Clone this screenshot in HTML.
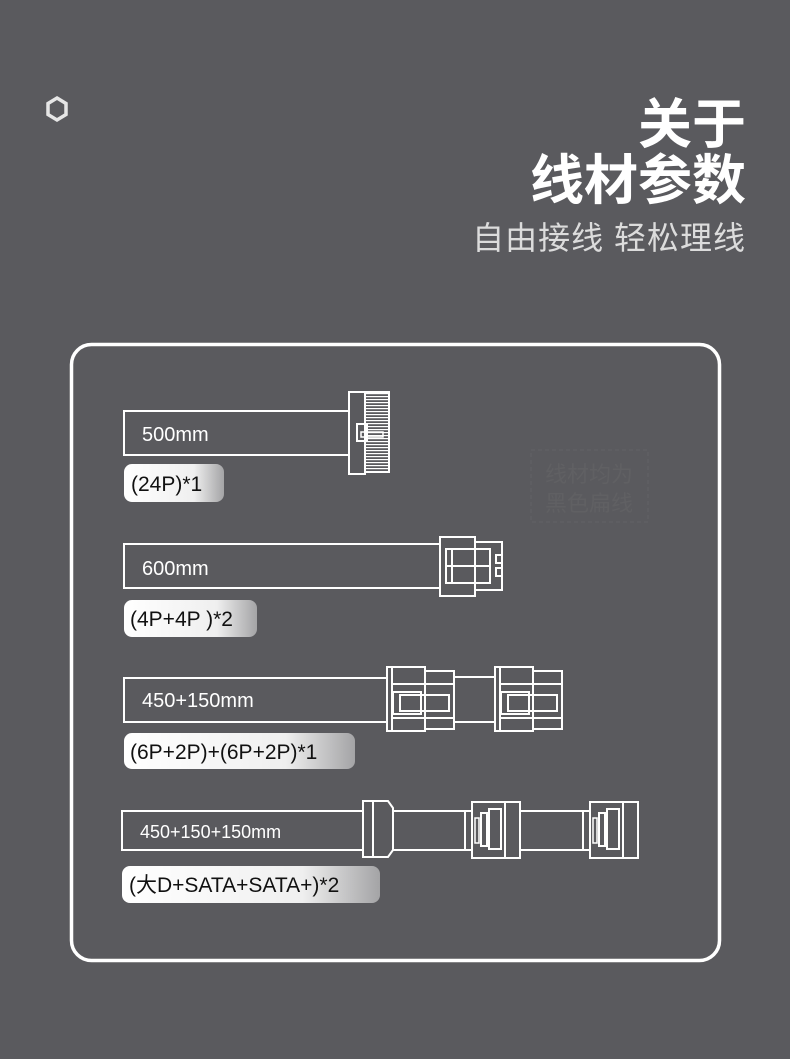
<!DOCTYPE html>
<html><head><meta charset="utf-8"><style>
html,body{margin:0;padding:0;background:#5a5a5e;}
svg{display:block}
text{font-family:"Liberation Sans","Noto Sans CJK SC",sans-serif;}
</style></head><body>
<svg width="790" height="1059" viewBox="0 0 790 1059" xmlns="http://www.w3.org/2000/svg">
<defs>
<linearGradient id="pill" x1="0" x2="1" y1="0" y2="0">
<stop offset="0" stop-color="#ffffff"/><stop offset="0.7" stop-color="#efefef"/><stop offset="1" stop-color="#a4a4a6"/>
</linearGradient>
<pattern id="comb" width="4" height="3" patternUnits="userSpaceOnUse"><rect width="4" height="1.2" fill="#fff"/></pattern>
</defs>
<rect width="790" height="1059" fill="#5a5a5e"/>
<polygon points="57,98 66,103.5 66,114.5 57,120 48,114.5 48,103.5" fill="none" stroke="#e6e6e6" stroke-width="3.5"/>
<g fill="#fff" font-weight="bold" text-anchor="end">
<text x="746" y="143" font-size="54" font-family="Noto Sans CJK SC, sans-serif">关于</text>
<text x="746" y="199" font-size="54" font-family="Noto Sans CJK SC, sans-serif">线材参数</text>
</g>
<text x="746" y="249" font-size="32" fill="#dcdcdc" text-anchor="end" letter-spacing="1" font-family="Noto Sans CJK SC, sans-serif">自由接线 轻松理线</text>

<rect x="71.5" y="344.5" width="648" height="616" rx="20" fill="none" stroke="#fff" stroke-width="3.5"/>

<rect x="531" y="450" width="117" height="72" fill="none" stroke="#626265" stroke-width="1" stroke-dasharray="4,3"/>
<text x="589" y="482" font-size="22" fill="#606063" text-anchor="middle" font-family="Noto Sans CJK SC, sans-serif">线材均为</text>
<text x="589" y="511" font-size="22" fill="#606063" text-anchor="middle" font-family="Noto Sans CJK SC, sans-serif">黑色扁线</text>

<g fill="none" stroke="#fff" stroke-width="2">
<rect x="124" y="411" width="225" height="44"/>
<rect x="349" y="392" width="16" height="82"/>
<rect x="365" y="392" width="24" height="80"/>
<rect x="357" y="424" width="10" height="17"/>
<rect x="361" y="432" width="22" height="5" stroke-width="1.5"/>
<rect x="124" y="544" width="316" height="44"/>
<rect x="440" y="537" width="35" height="59"/>
<rect x="475" y="542" width="27" height="48"/>
<rect x="446" y="549" width="44" height="34"/>
<line x1="446" y1="566" x2="490" y2="566"/>
<line x1="452" y1="549" x2="452" y2="583"/>
<rect x="496" y="555" width="6" height="8"/><rect x="496" y="568" width="6" height="8"/>
<rect x="124" y="678" width="263" height="44"/>
<line x1="453" y1="677" x2="495" y2="677"/><line x1="453" y1="722" x2="495" y2="722"/>
<g id="c6">
<rect x="387" y="667" width="38" height="64"/>
<rect x="425" y="671" width="29" height="58"/>
<line x1="392" y1="667" x2="392" y2="731"/>
<line x1="392" y1="684" x2="454" y2="684"/>
<line x1="392" y1="718" x2="454" y2="718"/>
<rect x="393" y="692" width="28" height="22"/>
<rect x="400" y="695" width="49" height="16"/>
</g>
<use href="#c6" x="108"/>
<rect x="122" y="811" width="241" height="39"/>
<path d="M363 801 H388 L393 808 V850 L388 857 H363 Z"/>
<line x1="373" y1="801" x2="373" y2="857"/>
<line x1="393" y1="811" x2="465" y2="811"/><line x1="393" y1="850" x2="465" y2="850"/>
<g id="sata">
<rect x="465" y="811" width="7" height="39"/>
<rect x="472" y="802" width="48" height="56"/>
<line x1="505" y1="802" x2="505" y2="858"/>
<rect x="475" y="818" width="4" height="25" stroke-width="1.5"/>
<rect x="481" y="813" width="6" height="33"/>
<rect x="489" y="809" width="12" height="40"/>
</g>
<line x1="520" y1="811" x2="583" y2="811"/><line x1="520" y1="850" x2="583" y2="850"/>
<use href="#sata" x="118"/>
</g>
<rect x="366" y="393" width="22" height="78" fill="url(#comb)"/>

<g fill="#fff" font-size="20">
<text x="142" y="441">500mm</text>
<text x="142" y="575">600mm</text>
<text x="142" y="707">450+150mm</text>
<text x="140" y="838" font-size="18">450+150+150mm</text>
</g>

<g>
<rect x="124" y="464" width="100" height="38" rx="8" fill="url(#pill)"/>
<rect x="124" y="600" width="133" height="37" rx="8" fill="url(#pill)"/>
<rect x="124" y="733" width="231" height="36" rx="8" fill="url(#pill)"/>
<rect x="122" y="866" width="258" height="37" rx="8" fill="url(#pill)"/>
</g>
<g fill="#111" font-size="21">
<text x="131" y="491">(24P)*1</text>
<text x="130" y="626">(4P+4P )*2</text>
<text x="130" y="759">(6P+2P)+(6P+2P)*1</text>
<text x="129" y="892">(大D+SATA+SATA+)*2</text>
</g>
</svg>
</body></html>
